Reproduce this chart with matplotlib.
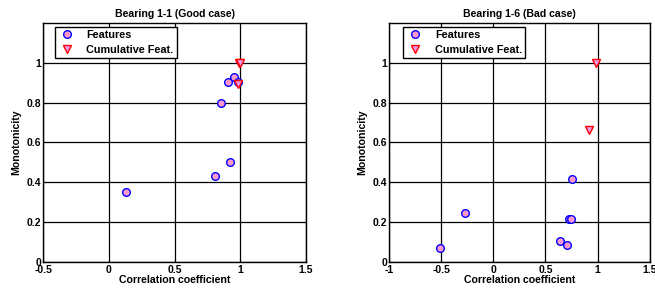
import matplotlib
matplotlib.use("Agg")
import matplotlib.pyplot as plt

plt.rcParams['font.family'] = ['Liberation Sans', 'DejaVu Sans']
plt.rcParams['font.weight'] = 'bold'

# Bearing 1-1 (good case)
good_feat_x = [0.13, 0.81, 0.92, 0.85, 0.905, 0.95, 0.985]
good_feat_y = [0.35, 0.43, 0.50, 0.80, 0.905, 0.93, 0.905]
good_cum_x = [0.99, 1.0, 0.98]
good_cum_y = [1.0, 1.0, 0.895]

# Bearing 1-6 (bad case)
bad_feat_x = [-0.515, -0.27, 0.64, 0.705, 0.725, 0.74, 0.755]
bad_feat_y = [0.068, 0.247, 0.105, 0.087, 0.214, 0.216, 0.414]
bad_cum_x = [0.98, 0.92]
bad_cum_y = [1.0, 0.66]

fig = plt.figure(figsize=(6.55, 2.94), dpi=100)

def panel(rect, fx, fy, cx, cy, title, xlim, xticks, xlabels, legx):
    ax = fig.add_axes(rect)
    ax.plot(fx, fy, 'o', ms=5.5, mfc='#ff99cc', mec='blue', mew=1.0,
            label='Features', zorder=3)
    ax.plot(cx, cy, 'v', ms=6, mfc='#ee99ee', mec='red', mew=1.0,
            label='Cumulative Feat.', zorder=3)
    ax.set_xlim(*xlim)
    ax.set_ylim(0, 1.2)
    ax.set_xticks(xticks)
    ax.set_xticklabels(xlabels)
    ax.set_yticks([0, 0.2, 0.4, 0.6, 0.8, 1.0])
    ax.set_yticklabels(['0', '0.2', '0.4', '0.6', '0.8', '1'])
    ax.grid(True, color='black', lw=0.9, ls='-')
    ax.set_axisbelow(True)
    ax.tick_params(direction='in', length=2, labelsize=7.5, pad=1.5)
    ax.tick_params(axis='x', pad=2.5)
    for s in ax.spines.values():
        s.set_linewidth(1.0)
    ax.set_title(title, fontsize=7.6, fontweight='bold', pad=4)
    ax.set_xlabel('Correlation coefficient', fontsize=7.6, fontweight='bold', labelpad=0)
    ax.set_ylabel('Monotonicity', fontsize=7.6, fontweight='bold', labelpad=4)
    leg = ax.legend(loc='upper left', fontsize=7.8, fancybox=False, framealpha=1,
                    edgecolor='black', borderpad=0.3, handletextpad=1.0,
                    handlelength=1.6, labelspacing=0.45, borderaxespad=0,
                    bbox_to_anchor=(legx, 0.985))
    leg.get_frame().set_linewidth(1.0)
    return ax

panel([0.066, 0.109, 0.401, 0.813], good_feat_x, good_feat_y, good_cum_x, good_cum_y,
      'Bearing 1-1 (Good case)', (-0.5, 1.5),
      [-0.5, 0, 0.5, 1, 1.5], ['-0.5', '0', '0.5', '1', '1.5'], 0.045)
panel([0.594, 0.109, 0.398, 0.813], bad_feat_x, bad_feat_y, bad_cum_x, bad_cum_y,
      'Bearing 1-6 (Bad case)', (-1, 1.5),
      [-1, -0.5, 0, 0.5, 1, 1.5], ['-1', '-0.5', '0', '0.5', '1', '1.5'], 0.055)

fig.savefig('out.png', dpi=100)
